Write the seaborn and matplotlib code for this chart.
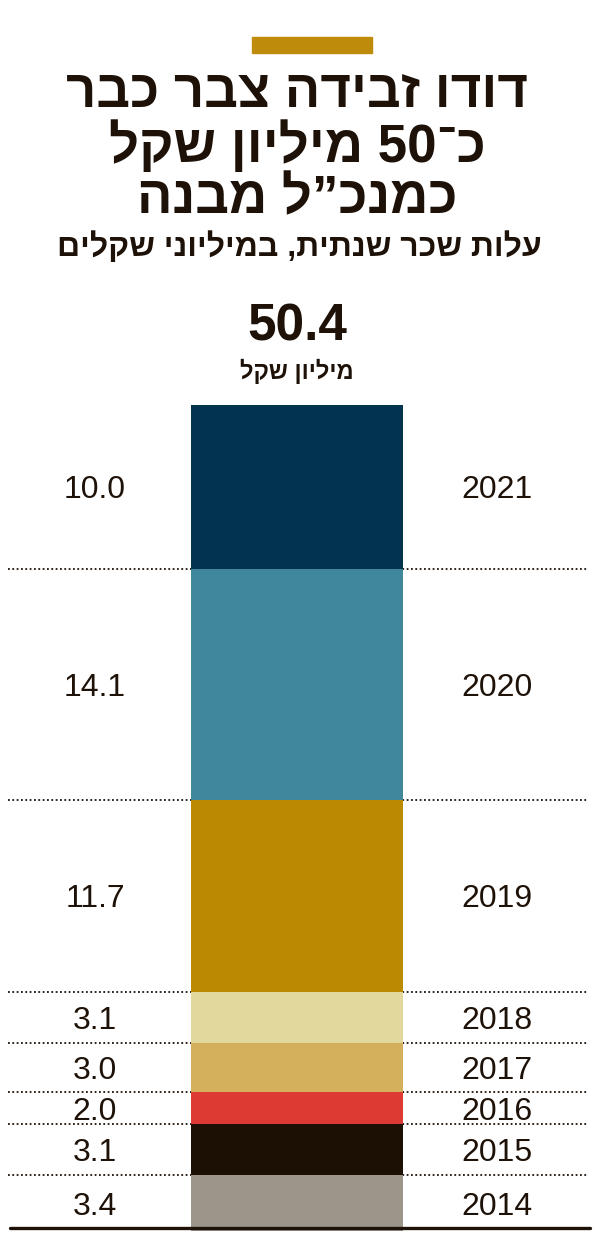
import re
import numpy as np
import pandas as pd
import matplotlib
matplotlib.use("Agg")
import matplotlib.pyplot as plt
import seaborn as sns

# data, bottom segment first
years = ["2014", "2015", "2016", "2017", "2018", "2019", "2020", "2021"]
values = [3.4, 3.1, 2.0, 3.0, 3.1, 11.7, 14.1, 10.0]
colors = ["#9c958a", "#1c0f03", "#dc3a32", "#d4b05c", "#e2d79c", "#bb8a00", "#41879b", "#02344f"]

title_lines = ["דודו זבידה צבר כבר", "כ־50 מיליון שקל", "כמנכ”ל מבנה"]
subtitle = "עלות שכר שנתית, במיליוני שקלים"
total_label = "50.4"
unit_label = "מיליון שקל"

INK = "#1e1208"
FONTS = ["Liberation Sans Narrow", "Liberation Sans", "DejaVu Sans"]


def rtl(s):
    # matplotlib has no bidi: flip the string, keep digit runs left-to-right
    r = s[::-1]
    return re.sub(r"[0-9.]+", lambda m: m.group(0)[::-1], r)


def main():
    sns.set_theme(style="white")
    plt.rcParams["font.family"] = FONTS

    W, H = 606, 1240
    fig = plt.figure(figsize=(W / 100, H / 100), dpi=100)

    # bar axes: data 0..50.4 spans pixel rows 1231..405
    bar_top_px, bar_bot_px = 405, 1231
    ax = fig.add_axes([0, (H - bar_bot_px) / H, 1, (bar_bot_px - bar_top_px) / H])

    df = pd.DataFrame({"year": years, "value": values, "color": colors})
    df["top"] = df["value"].cumsum()
    df["bottom"] = df["top"] - df["value"]
    total = df["top"].iloc[-1]

    # stack by overdrawing cumulative totals, tallest first
    for _, row in df.sort_values("top", ascending=False).iterrows():
        sns.barplot(x=["all"], y=[row["top"]], color=row["color"], saturation=1,
                    width=1, linewidth=0, ax=ax, zorder=3)

    cx, bw = 297, 212
    def px(x):
        return (x - cx) / bw

    ax.set_xlim(px(0), px(W))
    ax.set_ylim(0, total)
    ax.axis("off")

    # dotted separators behind the bar
    ax.hlines(df["top"].iloc[:-1], px(8), px(588), colors=INK, linewidth=1.3,
              linestyles=(0, (1, 1.4)), zorder=1)

    for _, row in df.iterrows():
        mid = row["bottom"] + row["value"] / 2
        ax.text(px(95), mid, f"{row['value']:.1f}", ha="center", va="center_baseline",
                fontsize=23, color=INK)
        ax.text(px(497), mid, row["year"], ha="center", va="center_baseline",
                fontsize=23, color=INK)

    # baseline rule
    fig.add_artist(plt.Line2D([10 / W, 590 / W], [1 - 1228 / H, 1 - 1228 / H],
                              color=INK, linewidth=2.4))

    # header
    fig.patches.append(plt.Rectangle((252 / W, 1 - 53 / H), 120 / W, 16 / H,
                                     transform=fig.transFigure, color="#bf8b0a"))
    for yc, line in zip([93, 147, 199], title_lines):
        fig.text(297 / W, 1 - yc / H, rtl(line), ha="center", va="center",
                 fontsize=38, fontweight="bold", color=INK)
    fig.text(299 / W, 1 - 247 / H, rtl(subtitle), ha="center", va="center",
             fontsize=23, fontweight="bold", color=INK)
    fig.text(297 / W, 1 - 327 / H, total_label, ha="center", va="center",
             fontsize=37, fontweight="bold", color=INK)
    fig.text(297 / W, 1 - 371 / H, rtl(unit_label), ha="center", va="center",
             fontsize=17, fontweight="bold", color=INK)

    fig.savefig("out.png", dpi=100, facecolor="white")
    plt.close(fig)


if __name__ == "__main__":
    main()
